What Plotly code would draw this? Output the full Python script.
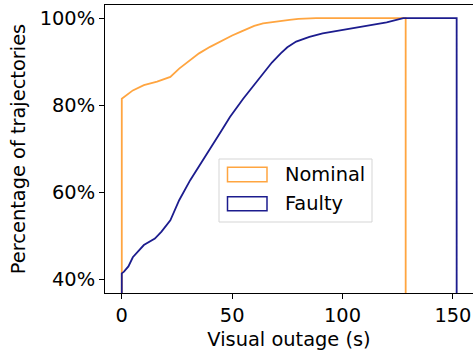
import plotly.graph_objects as go

# Cumulative share of trajectories (%) vs visual outage (s)
nominal_x = [0, 0, 5, 10, 16, 22, 26, 31, 35, 40, 46, 50, 54, 57, 60, 64, 68, 72, 76, 80, 88, 100, 128.6, 128.6]
nominal_y = [0, 81.5, 83.4, 84.6, 85.4, 86.5, 88.4, 90.3, 91.9, 93.4, 95.0, 96.0, 96.9, 97.6, 98.2, 98.8, 99.1, 99.4, 99.6, 99.8, 100, 100, 100, 0]

faulty_x = [0, 0, 1, 3, 5, 10, 15, 18, 22, 26, 31, 34, 40, 45, 49, 55, 60, 64, 68, 72, 75, 79, 85, 91, 100, 109, 120, 127.5, 151.7, 151.7]
faulty_y = [0, 41.4, 41.8, 43.0, 45.1, 47.9, 49.4, 51.0, 53.6, 58.2, 62.8, 65.1, 70.0, 74.0, 77.3, 81.5, 84.8, 87.3, 89.8, 91.9, 93.3, 94.6, 95.7, 96.5, 97.3, 98.0, 99.0, 100, 100, 0]

series_names = ["Nominal", "Faulty"]
x_ticks = [0, 50, 100, 150]
y_ticks = [40, 60, 80, 100]
y_tick_labels = ["40%", "60%", "80%", "100%"]

ORANGE = "#FFA540"
BLUE = "#1C1C8E"
FONT = "DejaVu Sans"
FS = 19.4

fig = go.Figure()
fig.add_trace(go.Scatter(x=nominal_x, y=nominal_y, mode="lines", name=series_names[0],
                         line=dict(color=ORANGE, width=1.8), showlegend=False))
fig.add_trace(go.Scatter(x=faulty_x, y=faulty_y, mode="lines", name=series_names[1],
                         line=dict(color=BLUE, width=1.8), showlegend=False))

fig.update_layout(
    width=473, height=356,
    margin=dict(l=105, r=0, t=5, b=63),
    paper_bgcolor="white", plot_bgcolor="white",
    font=dict(family=FONT, size=FS, color="black"),
    xaxis=dict(range=[-7.6, 159.1], tickvals=x_ticks, showgrid=False, zeroline=False,
               showline=True, linecolor="black", linewidth=1, mirror=True,
               ticks="outside", ticklen=5, tickcolor="black",
               title=dict(text="Visual outage (s)", font=dict(size=FS), standoff=6)),
    yaxis=dict(range=[36.9, 103], tickvals=y_ticks, ticktext=y_tick_labels,
               showgrid=False, zeroline=False,
               showline=True, linecolor="black", linewidth=1,
               ticks="outside", ticklen=5, tickcolor="black",
               title=dict(text="Percentage of trajectories", font=dict(size=FS), standoff=8)),
)

# Legend (matplotlib style box with outlined patches)
fig.add_shape(type="rect", xref="paper", yref="paper",
              x0=(219 - 105) / 368, x1=(372 - 105) / 368,
              y0=(293 - 222) / 288, y1=(293 - 159) / 288,
              line=dict(color="#D5D5D5", width=1), fillcolor="rgba(255,255,255,0.8)")
legend_rows = [(167.3, 181.7, ORANGE), (196.7, 210.7, BLUE)]
for (top, bot, col), name in zip(legend_rows, series_names):
    fig.add_shape(type="rect", xref="paper", yref="paper",
                  x0=(227.5 - 105) / 368, x1=(267 - 105) / 368,
                  y0=(293 - bot) / 288, y1=(293 - top) / 288,
                  line=dict(color=col, width=1.5), fillcolor="rgba(0,0,0,0)")
    fig.add_annotation(xref="paper", yref="paper", x=(283 - 105) / 368, y=(293 - (top + bot) / 2) / 288,
                       text=name, showarrow=False, xanchor="left", yanchor="middle",
                       font=dict(family=FONT, size=FS, color="black"))

fig.write_html("out.html")
